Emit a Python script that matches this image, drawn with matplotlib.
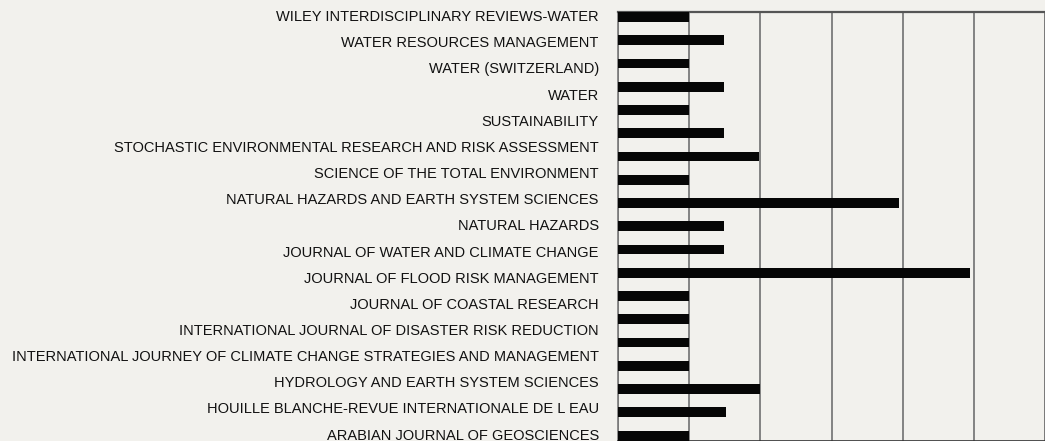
import numpy as np
import matplotlib
matplotlib.use('Agg')
import matplotlib.pyplot as plt

# journal labels, top to bottom
labels = ['WILEY INTERDISCIPLINARY REVIEWS-WATER', 'WATER RESOURCES MANAGEMENT',
          'WATER (SWITZERLAND)', 'WATER', 'SUSTAINABILITY',
          'STOCHASTIC ENVIRONMENTAL RESEARCH AND RISK ASSESSMENT',
          'SCIENCE OF THE TOTAL ENVIRONMENT', 'NATURAL HAZARDS AND EARTH SYSTEM SCIENCES',
          'NATURAL HAZARDS', 'JOURNAL OF WATER AND CLIMATE CHANGE',
          'JOURNAL OF FLOOD RISK MANAGEMENT', 'JOURNAL OF COASTAL RESEARCH',
          'INTERNATIONAL JOURNAL OF DISASTER RISK REDUCTION',
          'INTERNATIONAL JOURNEY OF CLIMATE CHANGE STRATEGIES AND MANAGEMENT',
          'HYDROLOGY AND EARTH SYSTEM SCIENCES',
          'HOUILLE BLANCHE-REVUE INTERNATIONALE DE L EAU',
          'ARABIAN JOURNAL OF GEOSCIENCES']

# bar lengths, top to bottom (there are more bars than labels in the original)
values = [1.0, 1.49, 1.0, 1.49, 1.0, 1.49, 1.98, 1.0, 3.95, 1.49,
          1.49, 4.95, 1.0, 1.0, 1.0, 1.0, 2.0, 1.51, 1.0]

bg = '#f2f1ed'
grid_c = '#7a7a7a'
bar_h = 0.42

fig = plt.figure(figsize=(10.45, 4.41), dpi=100, facecolor=bg)
ax = fig.add_axes([618.3 / 1045, 0.5 / 441, 426.4 / 1045, 428.3 / 441])
ax.set_facecolor(bg)

pos = np.arange(len(values))
ax.barh(pos, values, height=bar_h, color='#060606', zorder=3)

ax.set_xlim(0, 6)
ax.set_ylim(len(values) - 1 + bar_h / 2, -bar_h / 2)
ax.set_xticks(np.arange(0, 7))
ax.xaxis.grid(True, color=grid_c, linewidth=1.3, zorder=1)
ax.tick_params(axis='x', length=0, labelbottom=False)

ax.set_yticks(np.linspace(0, len(values) - 1, len(labels)))
ax.set_yticklabels(labels, fontsize=10.5, fontfamily='Liberation Sans', color='#111111')
ax.tick_params(axis='y', length=0, pad=14)
for t in ax.get_yticklabels():
    t.set_verticalalignment('center')

for s in ax.spines.values():
    s.set_color(grid_c)
    s.set_linewidth(1.2)
ax.spines['top'].set_color('#555555')
ax.spines['top'].set_linewidth(1.6)
ax.spines['bottom'].set_color('#333333')

plt.savefig('out.png', dpi=100, facecolor=bg)
plt.close()
